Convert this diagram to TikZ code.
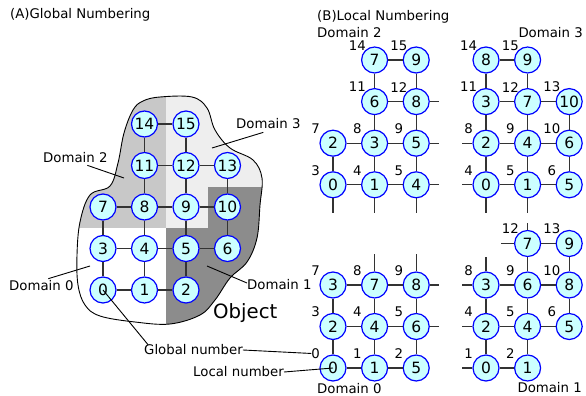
\documentclass[tikz,border=0pt]{standalone}
\usepackage{fontspec}
\setmainfont{DejaVu Sans}
\usepackage{tikz}
\tikzset{>=latex}
\usetikzlibrary{calc}

\definecolor{nodefill}{RGB}{204,255,255}
\definecolor{domtwo}{RGB}{200,200,200}
\definecolor{domthree}{RGB}{238,238,238}
\definecolor{domone}{RGB}{140,140,140}
\definecolor{linkgray}{RGB}{51,51,51}

\tikzset{
    vtx/.style={circle,draw=blue,fill=nodefill,line width=1.2pt,minimum size=26pt,inner sep=0pt,font=\fontsize{15.5}{16}\selectfont},
    glab/.style={anchor=center,inner sep=0pt,font=\fontsize{13.3}{14}\selectfont},
    txt/.style={inner sep=0pt,font=\fontsize{13.3}{14}\selectfont},
    link/.style={draw=linkgray,line width=1.1pt},
    leader/.style={draw=black,line width=0.9pt}
}

\def\blobpath{plot[smooth cycle,tension=0.6] coordinates {(143,101) (160,97) (192,97) (207,108) (215,130) (230,148) (253,160) (262,178) (260,205) (257,238) (247,262) (230,278) (215,300) (200,315) (170,324) (135,322) (100,316) (85,305) (78,285) (77,255) (80,222) (90,195) (110,186) (118,163) (124,133) (133,110)}}

\begin{document}
\begin{tikzpicture}[x=1pt,y=-1pt,label distance=9pt]
                \useasboundingbox (0,0) rectangle (586,396);
                \fill[white] \blobpath;
                \begin{scope}
                    \clip \blobpath;
                    \fill[domtwo] (60,80) rectangle (166,228);
                    \fill[domthree] (166,80) rectangle (280,187) (166,187) rectangle (208,228);
                    \fill[domone] (166,228) rectangle (280,340) (208,187) rectangle (280,228);
                \end{scope}
                \draw[line width=0.9pt] \blobpath;

                \node[txt,anchor=west] (titA) at (10,15) {(A)Global Numbering};
                \node[txt,anchor=west] (titB) at (317,17) {(B)Local Numbering};

                \node[vtx] (g14) at (144.5,124) {14};
                \node[vtx] (g15) at (186,124) {15};
                \node[vtx] (g11) at (144.5,165.5) {11};
                \node[vtx] (g12) at (186,165.5) {12};
                \node[vtx] (g13) at (227.5,165.5) {13};
                \node[vtx] (g7) at (103,207) {7};
                \node[vtx] (g8) at (144.5,207) {8};
                \node[vtx] (g9) at (186,207) {9};
                \node[vtx] (g10) at (227.5,207) {10};
                \node[vtx] (g3) at (103,248.5) {3};
                \node[vtx] (g4) at (144.5,248.5) {4};
                \node[vtx] (g5) at (186,248.5) {5};
                \node[vtx] (g6) at (227.5,248.5) {6};
                \node[vtx] (g0) at (103,290) {0};
                \node[vtx] (g1) at (144.5,290) {1};
                \node[vtx] (g2) at (186,290) {2};
                \draw[link] (g14) -- (g15) -- (g12) -- (g9) -- (g5) -- (g2);
                \draw[link] (g14) -- (g11) -- (g8) -- (g4) -- (g1);
                \draw[link] (g11) -- (g12) -- (g13) -- (g10) -- (g6);
                \draw[link] (g7) -- (g8) -- (g9) -- (g10);
                \draw[link] (g7) -- (g3) -- (g0) -- (g1) -- (g2);
                \draw[link] (g3) -- (g4) -- (g5) -- (g6);

                \node[txt,anchor=west] (lbAthree) at (236,124) {Domain 3};
                \node[txt,anchor=west] (lbAtwo) at (43,158) {Domain 2};
                \node[txt,anchor=west] (lbAzero) at (9,286) {Domain 0};
                \node[txt,anchor=west] (lbAone) at (247,285) {Domain 1};
                \node[anchor=west,inner sep=0pt,font=\fontsize{19.7}{22}\selectfont] (obj) at (213,313) {Object};
                \coordinate (inthree) at (212,148);
                \coordinate (intwo) at (124,178);
                \coordinate (inzero) at (90,266);
                \coordinate (inone) at (207,266);
                \draw[leader] ([xshift=-5pt,yshift=-3pt]lbAthree.south) -- (inthree);
                \draw[leader] ([xshift=12pt,yshift=-2pt]lbAtwo.south) -- (intwo);
                \draw[leader] ([xshift=7pt,yshift=2pt]lbAzero.north) -- (inzero);
                \draw[leader] ([yshift=2pt]lbAone.west) -- (inone);

                \node[txt,anchor=west] (lbBtwo) at (317,33) {Domain 2};
                \node[vtx,label={[glab]140:14}] (dom2n7) at (374.6,60) {7};
                \node[vtx,label={[glab]140:15}] (dom2n9) at (416.2,60) {9};
                \node[vtx,label={[glab]140:11}] (dom2n6) at (374.6,101.6) {6};
                \node[vtx,label={[glab]140:12}] (dom2n8) at (416.2,101.6) {8};
                \node[vtx,label={[glab]140:7}] (dom2n2) at (333,143.2) {2};
                \node[vtx,label={[glab]140:8}] (dom2n3) at (374.6,143.2) {3};
                \node[vtx,label={[glab]140:9}] (dom2n5) at (416.2,143.2) {5};
                \node[vtx,label={[glab]140:3}] (dom2n0) at (333,184.8) {0};
                \node[vtx,label={[glab]140:4}] (dom2n1) at (374.6,184.8) {1};
                \node[vtx,label={[glab]140:5}] (dom2n4) at (416.2,184.8) {4};
                \draw[link] (dom2n7) -- (dom2n9) -- (dom2n8) -- (dom2n5) -- (dom2n4);
                \draw[link] (dom2n7) -- (dom2n6) -- (dom2n3) -- (dom2n1);
                \draw[link] (dom2n6) -- (dom2n8);
                \draw[link] (dom2n2) -- (dom2n3) -- (dom2n5);
                \draw[link] (dom2n2) -- (dom2n0) -- (dom2n1) -- (dom2n4);
                \draw[link] (dom2n8.east) -- ++(9,0);
                \draw[link] (dom2n5.east) -- ++(9,0);
                \draw[link] (dom2n4.east) -- ++(9,0);
                \draw[link] (dom2n0.south) -- ++(0,15);
                \draw[link] (dom2n1.south) -- ++(0,15);
                \draw[link] (dom2n4.south) -- ++(0,15);

                \node[txt,anchor=east] (lbBthree) at (583,33) {Domain 3};
                \node[vtx,label={[glab]140:14}] (dom3n8) at (486,60) {8};
                \node[vtx,label={[glab]140:15}] (dom3n9) at (527.6,60) {9};
                \node[vtx,label={[glab]140:11}] (dom3n3) at (486,101.6) {3};
                \node[vtx,label={[glab]140:12}] (dom3n7) at (527.6,101.6) {7};
                \node[vtx,label={[glab]140:13}] (dom3n10) at (569.2,101.6) {10};
                \node[vtx,label={[glab]140:8}] (dom3n2) at (486,143.2) {2};
                \node[vtx,label={[glab]140:9}] (dom3n4) at (527.6,143.2) {4};
                \node[vtx,label={[glab]140:10}] (dom3n6) at (569.2,143.2) {6};
                \node[vtx,label={[glab]140:4}] (dom3n0) at (486,184.8) {0};
                \node[vtx,label={[glab]140:5}] (dom3n1) at (527.6,184.8) {1};
                \node[vtx,label={[glab]140:6}] (dom3n5) at (569.2,184.8) {5};
                \draw[link] (dom3n8) -- (dom3n9) -- (dom3n7) -- (dom3n4) -- (dom3n1);
                \draw[link] (dom3n8) -- (dom3n3) -- (dom3n2) -- (dom3n0) -- (dom3n1) -- (dom3n5) -- (dom3n6) -- (dom3n10) -- (dom3n7) -- (dom3n3);
                \draw[link] (dom3n2) -- (dom3n4) -- (dom3n6);
                \draw[link] (dom3n2.west) -- ++(-10,0);
                \draw[link] (dom3n0.west) -- ++(-10,0);
                \draw[link] (dom3n0.south) -- ++(0,15);
                \draw[link] (dom3n1.south) -- ++(0,15);

                \node[txt,anchor=west] (lbBzero) at (317,389) {Domain 0};
                \node[vtx,label={[glab]140:7}] (dom0n3) at (333,285) {3};
                \node[vtx,label={[glab]140:8}] (dom0n7) at (374.6,285) {7};
                \node[vtx,label={[glab]140:9}] (dom0n8) at (416.2,285) {8};
                \node[vtx,label={[glab]140:3}] (dom0n2) at (333,326.5) {2};
                \node[vtx,label={[glab]140:4}] (dom0n4) at (374.6,326.5) {4};
                \node[vtx,label={[glab]140:5}] (dom0n6) at (416.2,326.5) {6};
                \node[vtx,label={[glab,name=dom0g0]140:0}] (dom0n0) at (333,368) {0};
                \node[vtx,label={[glab]140:1}] (dom0n1) at (374.6,368) {1};
                \node[vtx,label={[glab]140:2}] (dom0n5) at (416.2,368) {5};
                \draw[link] (dom0n3) -- (dom0n7) -- (dom0n8) -- (dom0n6) -- (dom0n5) -- (dom0n1) -- (dom0n0) -- (dom0n2) -- (dom0n3);
                \draw[link] (dom0n7) -- (dom0n4) -- (dom0n1);
                \draw[link] (dom0n2) -- (dom0n4) -- (dom0n6);
                \draw[link] (dom0n7.north) -- ++(0,-17);
                \draw[link] (dom0n8.north) -- ++(0,-17);
                \draw[link] (dom0n8.east) -- ++(9,0);
                \draw[link] (dom0n6.east) -- ++(9,0);

                \node[txt,anchor=east] (lbBone) at (582,388) {Domain 1};
                \node[vtx,label={[glab]140:12}] (dom1n7) at (527.6,243.5) {7};
                \node[vtx,label={[glab]140:13}] (dom1n9) at (569.2,243.5) {9};
                \node[vtx,label={[glab]140:8}] (dom1n3) at (486,285) {3};
                \node[vtx,label={[glab]140:9}] (dom1n6) at (527.6,285) {6};
                \node[vtx,label={[glab]140:10}] (dom1n8) at (569.2,285) {8};
                \node[vtx,label={[glab]140:4}] (dom1n2) at (486,326.5) {2};
                \node[vtx,label={[glab]140:5}] (dom1n4) at (527.6,326.5) {4};
                \node[vtx,label={[glab]140:6}] (dom1n5) at (569.2,326.5) {5};
                \node[vtx,label={[glab]140:1}] (dom1n0) at (486,368) {0};
                \node[vtx,label={[glab]140:2}] (dom1n1) at (527.6,368) {1};
                \draw[link] (dom1n7) -- (dom1n9) -- (dom1n8) -- (dom1n5) -- (dom1n4) -- (dom1n2) -- (dom1n3) -- (dom1n6) -- (dom1n7);
                \draw[link] (dom1n6) -- (dom1n8);
                \draw[link] (dom1n6) -- (dom1n4) -- (dom1n1) -- (dom1n0) -- (dom1n2);
                \draw[link] (dom1n7.north) -- ++(0,-7);
                \draw[link] (dom1n7.west) -- ++(-13,0);
                \draw[link] (dom1n3.north) -- ++(0,-14);
                \draw[link] (dom1n3.west) -- ++(-10,0);
                \draw[link] (dom1n2.west) -- ++(-10,0);
                \draw[link] (dom1n0.west) -- ++(-10,0);

                \node[txt,anchor=west] (lbGlobal) at (144,350) {Global number};
                \node[txt,anchor=west] (lbLocal) at (193,372) {Local number};
                \draw[leader] ([xshift=4pt]lbGlobal.north west) -- (g0.center);
                \draw[leader] (lbGlobal.east) -- (dom0g0.west);
                \draw[leader] (lbLocal.east) -- (dom0n0.center);
            \end{tikzpicture}
\end{document}
